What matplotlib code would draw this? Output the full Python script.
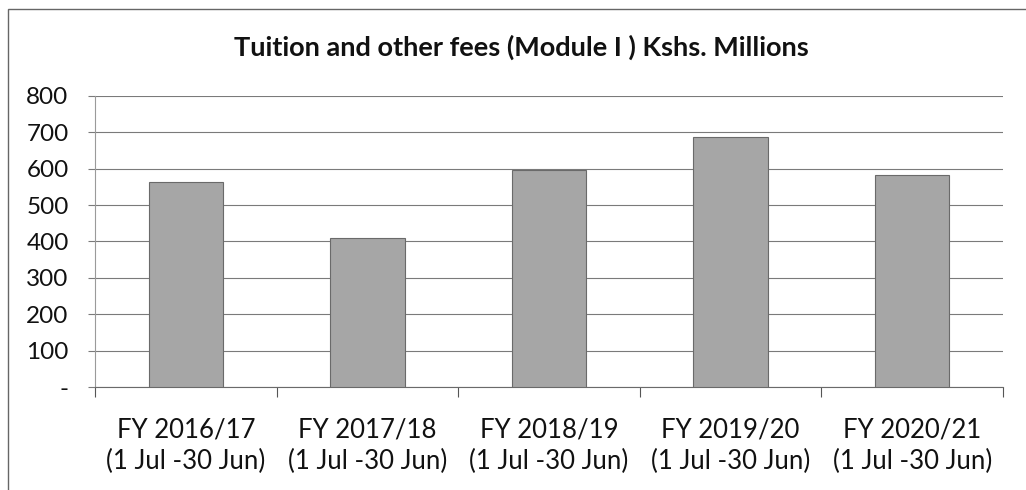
import numpy as np
import matplotlib.pyplot as plt
from matplotlib.patches import Rectangle

# Data
years = ["FY 2016/17", "FY 2017/18", "FY 2018/19", "FY 2019/20", "FY 2020/21"]
period = "(1 Jul -30 Jun)"
fees = [563, 409, 597, 688, 583]
yticks = [0, 100, 200, 300, 400, 500, 600, 700, 800]
ytick_labels = ["-", "100", "200", "300", "400", "500", "600", "700", "800"]

plt.rcParams['font.family'] = ['Lato', 'DejaVu Sans']

fig = plt.figure(figsize=(10.26, 4.9), dpi=100)
ax = fig.add_axes([95 / 1026, 1 - 387 / 490, 908 / 1026, 291 / 490])

x = np.arange(len(years))
ax.bar(x, fees, width=0.41, color='#a6a6a6', edgecolor='#6a6a6a', linewidth=0.8, zorder=3)

# axes and grid
ax.set_xlim(-0.5, len(years) - 0.5)
ax.set_ylim(0, 800)
ax.set_yticks(yticks)
ax.set_yticklabels(ytick_labels)
ax.yaxis.grid(True, color='#7a7a7a', linewidth=0.8, zorder=0)
ax.tick_params(axis='y', length=5, color='#7a7a7a', pad=14, labelsize=17.5, colors='#111111')

# category boundaries as ticks, labels at centres
ax.set_xticks(np.arange(-0.5, len(years)), minor=False)
ax.set_xticklabels([])
ax.set_xticks(x, minor=True)
ax.set_xticklabels([f"{y}\n{period}" for y in years], minor=True)
ax.tick_params(axis='x', which='major', length=7, color='#555555')
ax.tick_params(axis='x', which='minor', length=0, pad=22, labelsize=18.5, colors='#111111')
for lab in ax.get_xticklabels(minor=True):
    lab.set_linespacing(1.3)

for s in ['top', 'right']:
    ax.spines[s].set_visible(False)
ax.spines['left'].set_color('#9a9a9a')
ax.spines['left'].set_linewidth(0.8)
ax.spines['bottom'].set_color('#6a6a6a')
ax.spines['bottom'].set_linewidth(0.8)

fig.text(521 / 1026, 1 - 47 / 490, "Tuition and other fees (Module I ) Kshs. Millions",
         ha='center', va='center', fontsize=19.5, fontweight='bold', color='#111111')

# scanned frame around the chart
fig.patches.append(Rectangle((8 / 1026, -0.05), 1.1, 1 - 9 / 490 + 0.05,
                             transform=fig.transFigure, fill=False,
                             edgecolor='#666666', linewidth=1.0))

fig.savefig("out.png", dpi=100)
